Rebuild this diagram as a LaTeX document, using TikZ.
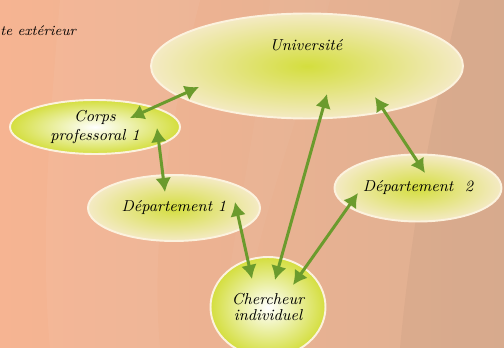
\documentclass[tikz,border=0pt]{standalone}
\usetikzlibrary{arrows.meta,shapes.geometric}
\definecolor{peachL}{RGB}{246,180,146}
\definecolor{peachR}{RGB}{222,176,146}
\definecolor{cream}{RGB}{252,242,222}
\definecolor{lime}{RGB}{212,222,62}
\definecolor{paleedge}{RGB}{244,234,196}
\definecolor{arrowgreen}{RGB}{107,155,45}
\begin{document}
\begin{tikzpicture}[x=0.02cm,y=-0.02cm,
	bubble/.style={ellipse,draw=cream,line width=1.1pt,font=\itshape\small,align=center,inner sep=0pt},
	greenmid/.style={inner color=lime,outer color=paleedge},
	whitemid/.style={inner color=white,outer color=lime},
	link/.style={{Latex[length=8pt,width=9pt]}-{Latex[length=8pt,width=9pt]},line width=1.7pt,arrowgreen}]
	\useasboundingbox (0,0) rectangle (504,348);
	\shade[left color=peachL,right color=peachR] (0,0) rectangle (504,348);
	\fill[white,opacity=0.05] (60,0) -- (200,0) .. controls (170,120) and (150,240) .. (160,348) -- (50,348) .. controls (40,240) and (50,120) .. (60,0) -- cycle;
	\fill[white,opacity=0.03] (270,0) -- (330,0) .. controls (300,120) and (250,240) .. (240,348) -- (220,348) .. controls (230,240) and (260,120) .. (270,0) -- cycle;
	\fill[black,opacity=0.03] (460,0) -- (504,0) -- (504,348) -- (400,348) .. controls (410,240) and (430,120) .. (460,0) -- cycle;
	\node[anchor=west,font=\itshape\footnotesize,inner sep=0pt] (outside) at (0,31) {te extérieur};
	% ellipses
	\node[bubble,greenmid,minimum width=6.24cm,minimum height=2.1cm] (univ) at (307,66) {};
	\node[font=\itshape\small] (univtext) at (306,45) {Université};
	\node[bubble,whitemid,minimum width=3.4cm,minimum height=1.08cm] (corps) at (95,127) {Corps\\professoral 1};
	\node[bubble,greenmid,minimum width=3.44cm,minimum height=1.32cm] (dep1) at (174,208) {Département 1};
	\node[bubble,greenmid,minimum width=3.34cm,minimum height=1.34cm] (dep2) at (418,188) {Département \ 2};
	\node[bubble,whitemid,minimum width=2.3cm,minimum height=2.0cm] (cherch) at (268,307) {Chercheur\\[-2pt]individuel};
	% links
	\draw[link] ([shift={(35,-9)}]corps.center) -- ([shift={(-108,21)}]univ.center);
	\draw[link] ([shift={(62,1)}]corps.center) -- ([shift={(-9,-16)}]dep1.center);
	\draw[link] ([shift={(61,-6)}]dep1.center) -- ([shift={(-16,-28)}]cherch.center);
	\draw[link] ([shift={(7,-27)}]cherch.center) -- ([shift={(20,28)}]univ.center);
	\draw[link] ([shift={(68,31)}]univ.center) -- ([shift={(7,-15)}]dep2.center);
	\draw[link] ([shift={(25,-22)}]cherch.center) -- ([shift={(-60,5)}]dep2.center);
\end{tikzpicture}
\end{document}
